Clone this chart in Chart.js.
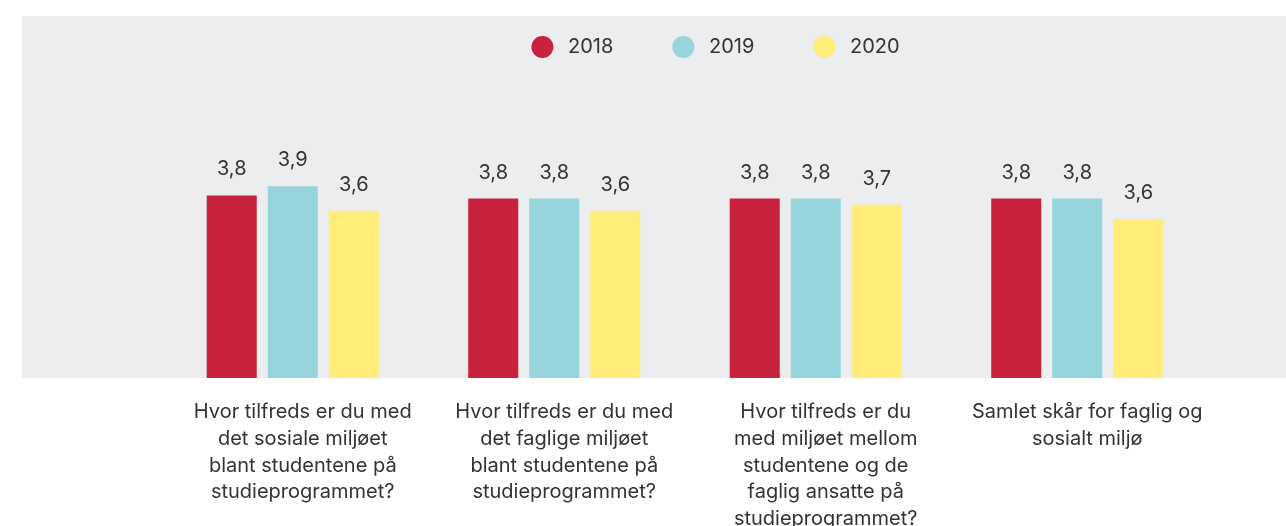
<!DOCTYPE html>
<html>
<head>
<meta charset="utf-8">
<script src="https://cdn.jsdelivr.net/npm/chart.js@4/dist/chart.umd.min.js"></script>
<style>
  html, body { margin: 0; padding: 0; background: #ffffff; overflow: hidden; width: 1286px; height: 526px; }
  #wrap { position: absolute; left: 0; top: -23px; width: 1432px; height: 549px; }
  canvas { display: block; }
</style>
</head>
<body>
<div id="wrap"><canvas id="c" width="1432" height="549"></canvas></div>
<script>
const categories = [
  ["Hvor tilfreds er du med", "det sosiale miljøet", "blant studentene på", "studieprogrammet?"],
  ["Hvor tilfreds er du med", "det faglige miljøet", "blant studentene på", "studieprogrammet?"],
  ["Hvor tilfreds er du", "med miljøet mellom", "studentene og de", "faglig ansatte på", "studieprogrammet?"],
  ["Samlet skår for faglig og", "sosialt miljø"]
];
const seriesNames = ["2018", "2019", "2020"];
const values2018 = [3.79, 3.76, 3.76, 3.76];
const values2019 = [3.88, 3.76, 3.76, 3.76];
const values2020 = [3.64, 3.64, 3.70, 3.56];
const colors = ["#C8223F", "#96D5DC", "#FFEC79"];

const FONT = "Inter, 'Noto Sans', sans-serif";
const TEXT = "#333333";

const bgPlugin = {
  id: 'bgPlugin',
  beforeDraw(chart) {
    const ctx = chart.ctx;
    ctx.save();
    ctx.fillStyle = '#ECEDEF';
    ctx.fillRect(22, 39, chart.width - 22, chart.chartArea.bottom - 39);
    ctx.restore();
  }
};

const valueLabels = {
  id: 'valueLabels',
  afterDatasetsDraw(chart) {
    const ctx = chart.ctx;
    ctx.save();
    ctx.font = "20px " + FONT;
    ctx.fillStyle = TEXT;
    ctx.textAlign = 'center';
    ctx.textBaseline = 'alphabetic';
    chart.data.datasets.forEach((ds, di) => {
      const meta = chart.getDatasetMeta(di);
      meta.data.forEach((el, i) => {
        const txt = ds.data[i].toFixed(1).replace('.', ',');
        ctx.fillText(txt, el.x, el.y - 20);
      });
    });
    ctx.restore();
  }
};

const mk = (i, data) => ({
  label: seriesNames[i],
  data: data,
  backgroundColor: colors[i],
  borderWidth: 0,
  categoryPercentage: 0.70,
  barPercentage: 0.82
});

new Chart(document.getElementById('c'), {
  type: 'bar',
  data: {
    labels: categories,
    datasets: [mk(0, values2018), mk(1, values2019), mk(2, values2020)]
  },
  options: {
    responsive: false,
    animation: false,
    layout: { padding: 0 },
    plugins: {
      tooltip: { enabled: false },
      legend: {
        position: 'top',
        align: 'center',
        labels: {
          usePointStyle: true,
          pointStyle: 'circle',
          boxWidth: 20,
          boxHeight: 15.56,
          padding: 60,
          color: TEXT,
          font: { family: FONT, size: 20 },
          generateLabels: (chart) => Chart.defaults.plugins.legend.labels.generateLabels(chart).map(l => Object.assign(l, { text: ' ' + l.text, lineWidth: 0 }))
        }
      }
    },
    scales: {
      x: {
        grid: { display: false },
        border: { display: false },
        ticks: {
          color: TEXT,
          font: { family: FONT, size: 20, lineHeight: 1.33 },
          padding: 13,
          labelOffset: 10,
          maxRotation: 0,
          autoSkip: false
        },
        afterFit: (s) => { s.height = 148; }
      },
      y: {
        position: 'left',
        min: 2,
        max: 5.05,
        grid: { display: false },
        border: { display: false },
        ticks: { display: false },
        afterFit: (s) => { s.width = 162; }
      },
      yRight: {
        position: 'right',
        grid: { display: false },
        border: { display: false },
        ticks: { display: false },
        afterFit: (s) => { s.width = 224; }
      }
    }
  },
  plugins: [bgPlugin, valueLabels]
});
</script>
</body>
</html>
